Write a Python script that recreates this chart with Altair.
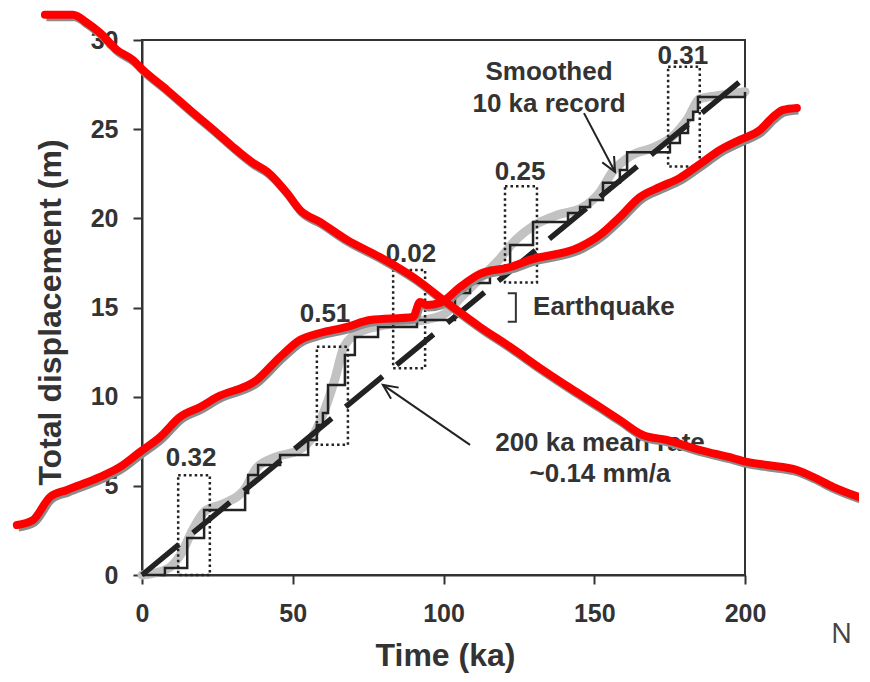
import altair as alt
import pandas as pd

FONT = "Liberation Sans"
INK = "#333333"

# ---- stepped earthquake record (time ka, displacement m) ----
step_t = [0, 7.6, 15.0, 20.6, 34.2, 35.2, 38.5, 45.8, 55.1, 58.0, 60.0, 61.7, 67.3, 70.6, 78.3,
          91.2, 103.8, 108.8, 115.4, 122.1, 129.7, 141.3, 145.3, 148.6, 152.9, 158.5, 160.9,
          175.1, 178.4, 181.1, 182.8, 184.4, 200]
step_d = [0, 0.39, 2.08, 3.65, 4.60, 5.61, 6.17, 6.73, 7.57, 8.41, 9.09, 10.66, 12.34, 13.35, 13.91,
          14.30, 15.82, 16.38, 17.22, 18.51, 19.80, 20.30, 20.64, 21.03, 21.99, 22.71, 23.70,
          24.23, 24.79, 25.52, 25.97, 26.81, 27.09]

# ---- smoothed 10 ka record ----
smooth_t = [0, 8, 13, 17, 21, 27, 34, 38, 44, 52, 56, 60, 64, 67, 72, 80, 90, 100, 106, 112, 118,
            124, 130, 138, 146, 152, 156, 162, 170, 176, 181, 185, 192, 200]
smooth_d = [0, 0.3, 1.2, 2.6, 3.6, 4.0, 4.8, 6.0, 6.6, 7.0, 7.6, 9.0, 11.0, 12.8, 13.6, 14.0, 14.2,
            14.6, 15.6, 16.6, 17.6, 18.8, 19.6, 20.2, 20.6, 21.5, 22.6, 23.5, 24.0, 24.6, 25.6,
            26.7, 26.9, 27.1]

# ---- 200 ka mean rate ----
mean_t = [0, 200]
mean_d = [0, 27.9]

# ---- dotted earthquake boxes ----
box_t1 = [12.0, 58.0, 83.3, 120.4, 174.5]
box_t2 = [22.5, 68.3, 93.9, 131.0, 185.0]
box_d1 = [0.0, 7.3, 11.6, 16.4, 22.9]
box_d2 = [5.6, 12.8, 17.1, 21.8, 28.5]
box_label = ["0.32", "0.51", "0.02", "0.25", "0.31"]
label_t = [16.3, 60.7, 89.2, 125.4, 179.4]
label_d = [6.56, 14.64, 18.0, 22.6, 29.1]

# ---- annotation texts ----
note_text = ["Smoothed", "10 ka record", "200 ka mean rate", "~0.14 mm/a"]
note_t = [135.0, 135.0, 151.9, 151.9]
note_d = [28.2, 26.4, 7.40, 5.66]
quake_text = ["Earthquake"]
quake_t = [129.7]
quake_d = [15.03]
bracket_t = [121.3, 124.0, 124.0, 121.3]
bracket_d = [15.8, 15.8, 14.2, 14.2]

# arrows: start -> tip
arrow_t1 = [146.6, 108.8]
arrow_d1 = [25.9, 7.3]
arrow_t2 = [156.9, 79.9]
arrow_d2 = [22.6, 10.66]
arrow_angle = [151.7, 304.6]

# ---- red overlay strokes ----
red_a_t = [-32.2, -22.9, -18.2, -13.9, -8.3, -3.0, 0.3, 8.3, 15.9, 24.9, 30.2, 36.8, 41.5, 48.1,
           52.4, 59.0, 68.0, 78.9, 89.9, 101.2, 112.1, 122.1, 132.0, 142.0, 151.9, 158.5, 166.1,
           174.1, 185.1, 196.0, 200.7, 207.3, 217.2, 222.6, 229.2, 240.5]
red_a_d = [31.41, 31.41, 30.96, 30.40, 29.44, 28.88, 28.32, 27.20, 26.08, 24.79, 24.00, 23.11,
           22.62, 21.42, 20.47, 19.80, 18.79, 17.83, 16.71, 15.26, 13.91, 12.79, 11.61, 10.49,
           9.42, 8.69, 7.85, 7.57, 7.01, 6.56, 6.34, 6.17, 5.89, 5.50, 4.94, 4.21]
red_b_t = [-41.5, -36.2, -30.5, -24.9, -13.9, -7.3, -0.7, 6.0, 12.6, 19.3, 24.9, 38.1, 45.8, 52.4,
           59.0, 68.0, 75.6, 89.9, 92.2, 94.5, 98.8, 105.5, 112.1, 122.1, 128.7, 145.3, 151.9,
           158.5, 165.2, 171.8, 178.4, 185.1, 191.7, 198.3, 205.0, 209.3, 212.6, 217.2]
red_b_d = [2.80, 3.08, 4.37, 4.77, 5.50, 6.06, 6.90, 7.74, 8.86, 9.42, 9.98, 10.94, 12.23, 13.18,
           13.57, 13.91, 14.30, 14.47, 15.31, 15.14, 15.26, 16.15, 16.88, 17.27, 17.67, 18.40,
           19.07, 20.08, 21.20, 21.76, 22.27, 23.05, 23.84, 24.40, 24.96, 25.69, 26.08, 26.19]

corner_text = ["N"]
corner_t = [228.5]
corner_d = [-3.37]

# ------------------------------------------------------------------
xs = alt.Scale(domain=[0, 200], nice=False, zero=False)
ys = alt.Scale(domain=[0, 30], nice=False, zero=False)

x_axis = alt.Axis(title="Time (ka)", values=[0, 50, 100, 150, 200], grid=False,
                  tickSize=9, tickWidth=2, tickColor=INK, domainColor=INK, domainWidth=2,
                  labelFont=FONT, labelFontSize=25, labelFontWeight="bold", labelColor=INK,
                  labelPadding=17, labelFlush=False, labelOverlap=False,
                  titleFont=FONT, titleFontSize=32, titleFontWeight="bold", titleColor=INK,
                  titleX=303, titleY=80, titleBaseline="middle", titleAlign="center")
y_axis = alt.Axis(title="Total displacement (m)", values=[0, 5, 10, 15, 20, 25, 30], grid=False,
                  tickSize=9, tickWidth=2, tickColor=INK, domainColor=INK, domainWidth=2,
                  labelFont=FONT, labelFontSize=25, labelFontWeight="bold", labelColor=INK,
                  labelPadding=15, labelFlush=False, labelOverlap=False,
                  titleFont=FONT, titleFontSize=32, titleFontWeight="bold", titleColor=INK,
                  titleX=-92, titleY=272, titleAngle=270, titleBaseline="middle", titleAlign="center")


def X(f="t"):
    return alt.X(f, type="quantitative", scale=xs, axis=x_axis)


def Y(f="d"):
    return alt.Y(f, type="quantitative", scale=ys, axis=y_axis)


smooth_df = pd.DataFrame({"t": smooth_t, "d": smooth_d})
step_df = pd.DataFrame({"t": step_t, "d": step_d})
mean_df = pd.DataFrame({"t": mean_t, "d": mean_d})
box_df = pd.DataFrame({"t": box_t1, "t2": box_t2, "d": box_d1, "d2": box_d2})
lab_df = pd.DataFrame({"t": label_t, "d": label_d, "txt": box_label})
note_df = pd.DataFrame({"t": note_t, "d": note_d, "txt": note_text})
quake_df = pd.DataFrame({"t": quake_t, "d": quake_d, "txt": quake_text})
bracket_df = pd.DataFrame({"t": bracket_t, "d": bracket_d, "o": list(range(len(bracket_t)))})
arrow_df = pd.DataFrame({"t": arrow_t1, "d": arrow_d1, "t2": arrow_t2, "d2": arrow_d2, "ang": arrow_angle})
red_a_df = pd.DataFrame({"t": red_a_t, "d": red_a_d})
red_b_df = pd.DataFrame({"t": red_b_t, "d": red_b_d})
corner_df = pd.DataFrame({"t": corner_t, "d": corner_d, "txt": corner_text})

smooth = alt.Chart(smooth_df).mark_line(color="#c2c2c2", strokeWidth=9, interpolate="monotone",
                                        strokeCap="round", clip=False).encode(x=X(), y=Y())
boxes = alt.Chart(box_df).mark_rect(fill=None, filled=False, stroke="#222", strokeWidth=2.5,
                                    strokeDash=[2.5, 3]).encode(x=X(), x2="t2", y=Y(), y2="d2")
steps = alt.Chart(step_df).mark_line(color="#222", strokeWidth=2.5, interpolate="step-after").encode(x=X(), y=Y())
mean = alt.Chart(mean_df).mark_line(color="#222", strokeWidth=5.5, strokeDash=[48, 18]).encode(x=X(), y=Y())

text_style = dict(font=FONT, fontSize=26, fontWeight="bold", color=INK, baseline="middle")
labels = alt.Chart(lab_df).mark_text(align="center", **text_style).encode(x=X(), y=Y(), text="txt")
notes = alt.Chart(note_df).mark_text(align="center", **text_style).encode(x=X(), y=Y(), text="txt")
quake = alt.Chart(quake_df).mark_text(align="left", **text_style).encode(x=X(), y=Y(), text="txt")
bracket = alt.Chart(bracket_df).mark_line(color=INK, strokeWidth=2).encode(x=X(), y=Y(), order="o")
arrow_lines = alt.Chart(arrow_df).mark_rule(color="#222", strokeWidth=2).encode(x=X(), y=Y(), x2="t2", y2="d2")
arrow_heads = alt.Chart(arrow_df).mark_point(shape="M-0.6,1.3L0,0L0.6,1.3", filled=False, size=500,
                                             stroke="#222", strokeWidth=2, opacity=1).encode(
    x=X("t2"), y=Y("d2"), angle=alt.Angle("ang", type="quantitative", scale=None))

shadow_a = alt.Chart(red_a_df).mark_line(color="#8c8c8c", strokeWidth=8, interpolate="monotone",
                                         xOffset=1.5, yOffset=2.5, clip=False).encode(x=X(), y=Y())
shadow_b = alt.Chart(red_b_df).mark_line(color="#8c8c8c", strokeWidth=8, interpolate="monotone",
                                         xOffset=1.5, yOffset=2.5, clip=False).encode(x=X(), y=Y())
red_a = alt.Chart(red_a_df).mark_line(color="#ff0000", strokeWidth=8, interpolate="monotone",
                                      strokeCap="round", clip=False).encode(x=X(), y=Y())
red_b = alt.Chart(red_b_df).mark_line(color="#ff0000", strokeWidth=8, interpolate="monotone",
                                      strokeCap="round", clip=False).encode(x=X(), y=Y())
corner = alt.Chart(corner_df).mark_text(align="left", baseline="middle", font="Open Sans",
                                        fontSize=28, color="#444").encode(x=X(), y=Y(), text="txt")

chart = alt.layer(
    smooth, boxes, steps, mean, labels, notes, quake, bracket, arrow_lines, arrow_heads,
    shadow_a, shadow_b, red_a, red_b, corner
).properties(
    width=603, height=535,
    autosize=alt.AutoSizeParams(type="none"),
    padding={"left": 134, "top": 32, "right": 114, "bottom": 98},
    background="white",
).configure_view(stroke=INK, strokeWidth=2)

chart.save("out.html", embed_options={"renderer": "svg", "actions": False})
